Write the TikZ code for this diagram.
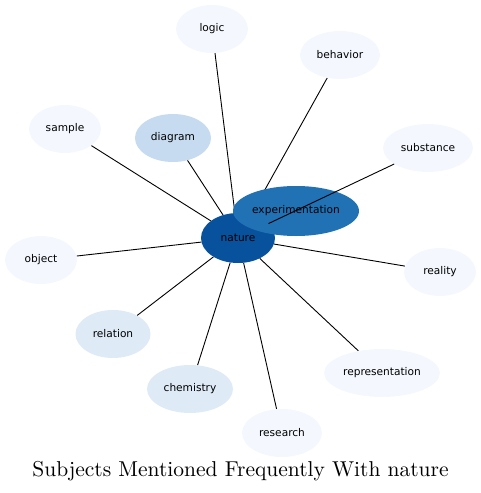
\documentclass[tikz,border=0pt]{standalone}
\usepackage{fontspec}
\newfontfamily\labelfont{DejaVu Sans}
\newfontfamily\titlefont{lmroman10-regular.otf}
\usetikzlibrary{shapes.geometric}
\pgfdeclarelayer{background}
\pgfsetlayers{background,main}
\definecolor{cdark}{HTML}{08519C}
\definecolor{cmid}{HTML}{2171B5}
\definecolor{clight}{HTML}{C6DBEF}
\definecolor{cpale}{HTML}{DEEBF7}
\definecolor{cfaint}{HTML}{F4F8FE}
\tikzset{
  topic/.style={ellipse, draw=none, inner sep=0pt, minimum height=48pt,
    font=\labelfont\fontsize{10.6}{12}\selectfont, text=black},
  link/.style={draw=black, line width=0.9pt}
}
\begin{document}
\begin{tikzpicture}[x=1pt,y=-1pt]
\useasboundingbox (0,0) rectangle (481,493);
\node[topic, fill=cdark, minimum width=74pt, minimum height=50pt] (nature) at (238,238) {nature};
\node[topic, fill=cmid, minimum width=126pt, minimum height=50pt] (exp) at (296,211) {experimentation};
\node[topic, fill=clight, minimum width=76pt] (diagram) at (173,138) {diagram};
\node[topic, fill=cfaint, minimum width=72pt] (logic) at (212,29) {logic};
\node[topic, fill=cfaint, minimum width=80pt] (behavior) at (340,55) {behavior};
\node[topic, fill=cfaint, minimum width=72pt] (sample) at (65,129) {sample};
\node[topic, fill=cfaint, minimum width=90pt] (substance) at (428,148) {substance};
\node[topic, fill=cfaint, minimum width=72pt] (object) at (41,260) {object};
\node[topic, fill=cfaint, minimum width=72pt] (reality) at (440,272) {reality};
\node[topic, fill=cpale, minimum width=75pt] (relation) at (113,334) {relation};
\node[topic, fill=cpale, minimum width=86pt] (chemistry) at (190,389) {chemistry};
\node[topic, fill=cfaint, minimum width=116pt] (representation) at (382,373) {representation};
\node[topic, fill=cfaint, minimum width=80pt] (research) at (282,433) {research};
\begin{pgfonlayer}{background}
\draw[link] (nature) -- (logic);
\draw[link] (nature) -- (behavior);
\draw[link] (nature) -- (sample);
\draw[link] (nature) -- (diagram);
\draw[link] (nature) -- (object);
\draw[link] (nature) -- (reality);
\draw[link] (nature) -- (relation);
\draw[link] (nature) -- (chemistry);
\draw[link] (nature) -- (representation);
\draw[link] (nature) -- (research);
\end{pgfonlayer}
\draw[link] (nature) -- (substance);
\node[font=\titlefont\fontsize{21.5}{24}\selectfont, inner sep=0pt] (title) at (240.5,471) {Subjects Mentioned Frequently With nature};
\end{tikzpicture}
\end{document}
